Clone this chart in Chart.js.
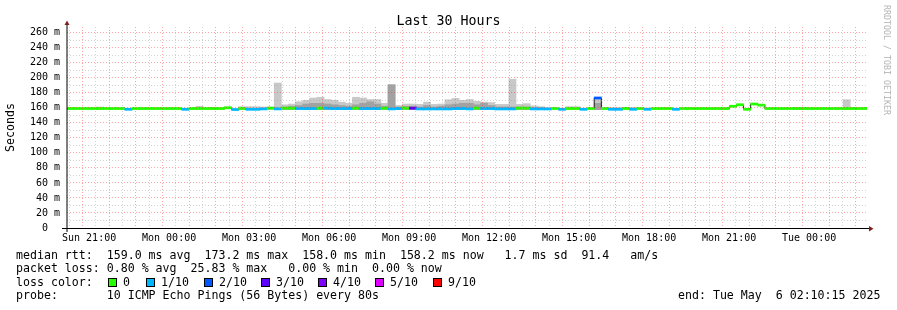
<!DOCTYPE html>
<html><head><meta charset="utf-8">
<script src="https://cdn.jsdelivr.net/npm/chart.js@4.4.1/dist/chart.umd.min.js"></script>
<style>
html,body{margin:0;padding:0;background:#fff;}
#wrap{position:relative;width:897px;height:310px;overflow:hidden;background:#fff;}
#c{position:absolute;left:0;top:0;}
.t{position:absolute;font-family:'DejaVu Sans Mono',monospace;white-space:pre;color:#000;}
.leg{font-size:11.6px;line-height:12px;}
.sq{position:absolute;box-sizing:border-box;width:9px;height:9px;border:1px solid #000;}
</style></head><body>
<div id="wrap">
<canvas id="c" width="897" height="310"></canvas>
<div class="t" style="left:0;width:897px;text-align:center;top:13px;font-size:13.3px;line-height:16px;">Last 30 Hours</div>
<div class="t" style="left:892px;top:5px;font-size:8.3px;line-height:10px;color:#b4b4b4;transform:rotate(90deg);transform-origin:left top;">RRDTOOL / TOBI OETIKER</div>
<div class="t leg" style="left:16px;top:248.5px">median rtt:  159.0 ms avg  173.2 ms max  158.0 ms min  158.2 ms now   1.7 ms sd  91.4   am/s</div>
<div class="t leg" style="left:16px;top:262px">packet loss: 0.80 % avg  25.83 % max   0.00 % min  0.00 % now</div>
<div class="t leg" style="left:16px;top:275.5px">loss color:</div>
<div id="lossLegend"></div>
<div class="t leg" style="left:16px;top:289px">probe:       10 ICMP Echo Pings (56 Bytes) every 80s</div>
<div class="t leg" style="left:678px;top:289px">end: Tue May  6 02:10:15 2025</div>
</div>
<script>
// ---- data ----
const startHour = 20 + 10/60 + 15/3600;      // Sun 20:10:15 (hours since Sun 00:00)
const endHour = startHour + 30;              // Tue 02:10:15
const firstStepHour = 19.9417;               // start of first 16-minute RRD step
const stepMinutes = 16;

const xTickHours  = [21, 24, 27, 30, 33, 36, 39, 42, 45, 48];
const xTickLabels = ['Sun 21:00','Mon 00:00','Mon 03:00','Mon 06:00','Mon 09:00','Mon 12:00','Mon 15:00','Mon 18:00','Mon 21:00','Tue 00:00'];
const yTickValues = [0,20,40,60,80,100,120,140,160,180,200,220,240,260];

const medianMs = [
 159,159,159,159,159,159,159,159,159,158,
 159,159,159,159,159,159,159,158,159,159,
 159,159,159,160,157.7,159,158,158,158.5,159.5,
 158.5,159.5,159.5,159,159,159,159.5,159.5,159,159,
 159,159.5,159,159,159,159.5,158.5,159,159.5,159.5,
 158.5,158.5,158.5,158.5,158.5,159,159,158.5,159.5,159,
 159,158.5,158.5,158.5,159.5,159.5,158.5,158.5,158.5,159,
 158,159,159,158,159,173,159,158,158,159,
 158,159,158,159,159,159,158,159,159,159,
 159,159,159,159,162,164,158,165,163.5,159,
 159,159,159,159,159,159,159,159,159,159,
 159,159,159,159
];
const lossTenths = [
 0,0,0,0,0,0,0,0,0,1,
 0,0,0,0,0,0,0,1,0,0,
 0,0,0,0,1,0,1,1,1,0,
 1,0,0,1,1,1,0,1,1,1,
 1,0,1,1,1,0,1,1,0,3,
 1,1,1,1,1,1,1,1,0,1,
 1,1,1,1,0,0,1,1,1,0,
 1,0,0,1,0,2,0,1,1,0,
 1,0,1,0,0,0,1,0,0,0,
 0,0,0,0,0,0,0,0,0,0,
 0,0,0,0,0,0,0,0,0,0,
 0,0,0,0
];
const smokeTopMs = [
 null,null,null,null,null,161,null,null,null,null,
 null,null,null,null,null,null,null,null,null,162,
 null,160.5,null,null,null,161.5,161.5,161.5,161,161,
 193,164,165,168,170,173,174,171,170,167.5,
 166,174,173,171,171,166,190.6,163,165,165,
 164.5,167.5,164.5,165,170.7,172.5,170,171,168.5,167.5,
 167,164.5,164.5,198,164.5,165.5,162.5,161.5,160,null,
 null,161.5,161.5,null,null,171,null,160.5,160.5,160.5,
 160.5,null,null,null,null,null,null,null,null,null,
 null,null,null,null,null,null,null,null,null,null,
 null,null,null,160.5,160.5,null,null,null,null,null,
 170.7,160.5,null,null
];
const smokeMidMs = [
 null,null,null,null,null,null,null,null,null,null,
 null,null,null,null,null,null,null,null,null,null,
 null,null,null,null,null,null,null,null,null,null,
 160,161,162,163,165,166,166,165,164,163,
 162,164,166,168,165,162,190.6,161,162,162,
 161,163,161,162,164,165,166,166,164,166,
 163,161,161,161,161,161,160,160,null,null,
 null,null,null,null,null,166,null,null,null,null,
 null,null,null,null,null,null,null,null,null,null,
 null,null,null,null,null,null,null,null,null,null,
 null,null,null,null,null,null,null,null,null,null,
 null,null,null,null
];
const smokeFloorMs = 157.5;
const lossLegendLabels = ['0','1/10','2/10','3/10','4/10','5/10','9/10'];
const lossLegendTenths = [0,1,2,3,4,5,9];
const lossPalette = {0:'#26ff00',1:'#00b8ff',2:'#0059ff',3:'#5e00ff',4:'#7e00ff',5:'#dd00ff',9:'#ff0000'};

// ---- legend (loss colours) ----
const sqLeft = [108,146,204,261,318,375,433];
const ll = document.getElementById('lossLegend');
lossLegendLabels.forEach((lab,i)=>{
  const s=document.createElement('div'); s.className='sq';
  s.style.left=sqLeft[i]+'px'; s.style.top='278px'; s.style.background=lossPalette[lossLegendTenths[i]];
  ll.appendChild(s);
  const t=document.createElement('div'); t.className='t leg'; t.textContent=lab;
  t.style.left=(sqLeft[i]+15)+'px'; t.style.top='275.5px'; ll.appendChild(t);
});

// ---- build datasets ----
const stepH = stepMinutes/60;
const stepStart = medianMs.map((_,j)=>firstStepHour + j*stepH);
const lossColor = t => t>=6 ? lossPalette[9] : lossPalette[t];
const light=[], mid=[], band=[], bandCol=[], medLine=[];
medianMs.forEach((m,j)=>{
  const cx = stepStart[j] + stepH/2;
  if (smokeTopMs[j]!=null) light.push({x:cx, y:[smokeFloorMs, smokeTopMs[j]]});
  if (smokeMidMs[j]!=null) mid.push({x:cx, y:[smokeFloorMs, smokeMidMs[j]]});
  band.push({x:cx, y:[m-1.4, m+1.4]}); bandCol.push(lossColor(lossTenths[j]));
  medLine.push({x:stepStart[j], y:m});
});
medLine.push({x:stepStart[medianMs.length-1]+stepH, y:medianMs[medianMs.length-1]});

const MAJOR='rgba(255,40,40,0.42)', MINOR='rgba(150,150,150,0.42)';
const mono = {family:"'DejaVu Sans Mono', monospace", size:10};

const axisPlugin = {
  id:'rrdAxes',
  afterDraw(chart){
    const {ctx, chartArea:a} = chart;
    ctx.save();
    ctx.strokeStyle='#000'; ctx.lineWidth=1;
    ctx.beginPath(); ctx.moveTo(a.left-5, a.bottom+0.5); ctx.lineTo(a.right+3, a.bottom+0.5); ctx.stroke();
    ctx.beginPath(); ctx.moveTo(a.left, a.bottom+4); ctx.lineTo(a.left, a.top-3); ctx.stroke();
    ctx.fillStyle='#7f1f1f';
    ctx.beginPath(); ctx.moveTo(a.right+2, a.bottom-2); ctx.lineTo(a.right+6.5, a.bottom+0.7); ctx.lineTo(a.right+2, a.bottom+3.5); ctx.closePath(); ctx.fill();
    ctx.beginPath(); ctx.moveTo(a.left-2.5, a.top-2); ctx.lineTo(a.left, a.top-6.5); ctx.lineTo(a.left+2.5, a.top-2); ctx.closePath(); ctx.fill();
    ctx.restore();
  }
};

new Chart(document.getElementById('c'), {
  type:'bar',
  data:{datasets:[
    {type:'bar', data:band, backgroundColor:bandCol, borderWidth:0, order:1},
    {type:'line', data:medLine, borderColor:'#202020', borderWidth:1, stepped:'before', pointRadius:0, fill:false, order:2},
    {type:'bar', data:mid, backgroundColor:'#a2a2a2', borderWidth:0, order:3},
    {type:'bar', data:light, backgroundColor:'#c8c8c8', borderWidth:0, order:4}
  ]},
  options:{
    responsive:false, animation:false, devicePixelRatio:1,
    layout:{padding:{left:0,right:30,top:27,bottom:0}},
    datasets:{bar:{grouped:false, barPercentage:1, categoryPercentage:1}},
    plugins:{legend:{display:false}, tooltip:{enabled:false}, title:{display:false}},
    scales:{
      x:{type:'linear', min:startHour, max:endHour, offset:false,
        afterFit(s){ s.height = 82; },
        afterBuildTicks(s){ const t=[]; for(let h=41; h<=100; h++) t.push({value:h/2}); s.ticks=t; },
        ticks:{autoSkip:false, maxRotation:0, minRotation:0, padding:4, color:'#000', font:mono,
          callback(v){ const i=xTickHours.indexOf(v); return i>=0 ? xTickLabels[i] : ''; }},
        grid:{z:1, drawTicks:false, lineWidth:1, color(c){ return (c.tick && c.tick.value%1===0) ? MAJOR : MINOR; }},
        border:{display:false, dash:[1,2]}
      },
      y:{type:'linear', min:0, max:267.5,
        afterFit(s){ s.width = 67; },
        afterBuildTicks(s){ const t=[]; for(let v=0; v<=260; v+=10) t.push({value:v}); s.ticks=t; },
        ticks:{autoSkip:false, padding:7, color:'#000', font:mono,
          callback(v){ if(!yTickValues.includes(v)) return ''; return v===0 ? '0  ' : v+' m'; }},
        grid:{z:1, drawTicks:false, lineWidth:1, color(c){ return (c.tick && c.tick.value%20===0) ? MAJOR : MINOR; }},
        border:{display:false, dash:[1,2]},
        title:{display:true, text:'Seconds', color:'#000', font:{family:"'DejaVu Sans Mono', monospace", size:11.6}, padding:{top:4,bottom:0}}
      }
    }
  },
  plugins:[axisPlugin]
});
</script>
</body></html>
